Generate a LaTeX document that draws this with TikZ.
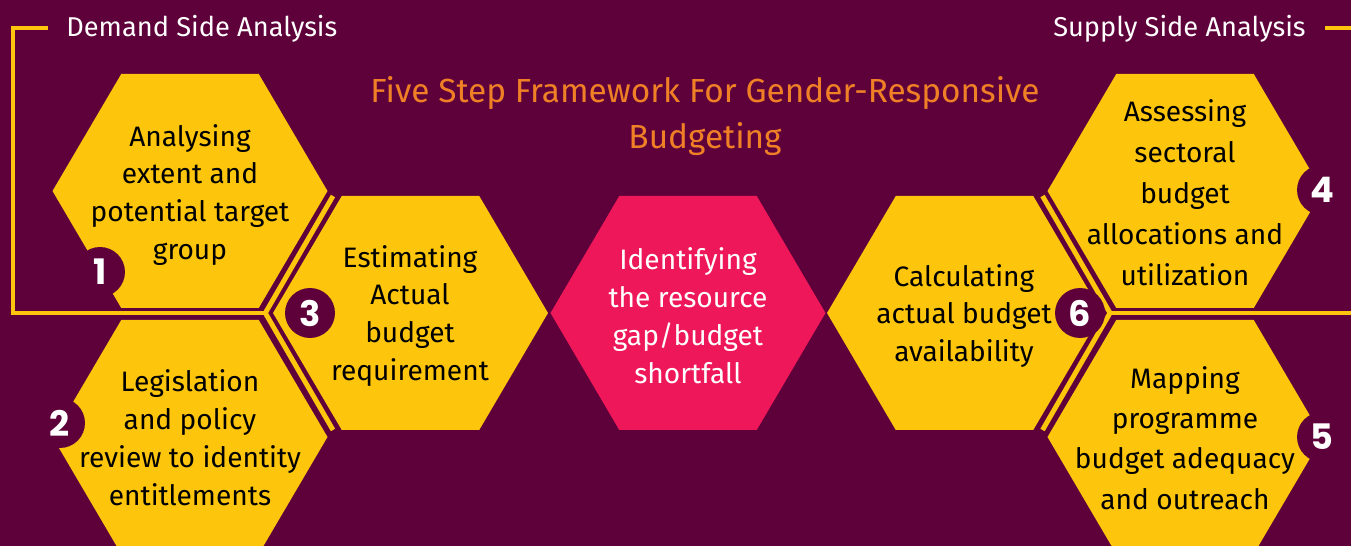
\documentclass[tikz,border=0pt]{standalone}
\usepackage{fontspec}
\setmainfont{Fira Sans}
\newfontfamily\numfont{Poppins}

\definecolor{bgmaroon}{HTML}{5E003A}
\definecolor{hexyellow}{HTML}{FDC60C}
\definecolor{hexpink}{HTML}{EE1759}
\definecolor{titleorange}{HTML}{F08026}

\tikzset{
  hextext/.style={align=center, text=black, font=\fontsize{16}{21.6}\selectfont},
  numcircle/.style={circle, fill=bgmaroon, minimum size=1cm, inner sep=0pt, text=white,
    font=\numfont\bfseries\fontsize{20}{20}\selectfont},
  sideline/.style={draw=hexyellow, line width=2.8pt},
  sidelabel/.style={text=white, inner sep=0pt, font=\fontsize{15.5}{18}\selectfont}
}

\begin{document}
\begin{tikzpicture}[x=0.02cm, y=-0.02cm]
  \clip (0,0) rectangle (1351,546);
  \fill[bgmaroon] (0,0) rectangle (1351,546);

  \foreach \cx/\cy/\col in {190/191/hexyellow, 190/437/hexyellow, 410.5/313/hexyellow,
      688/313/hexpink, 964.5/313/hexyellow, 1185/191/hexyellow, 1185/437/hexyellow} {
    \fill[\col] (\cx-137.5,\cy) -- ++(68.75,-117) -- ++(137.5,0) -- ++(68.75,117)
      -- ++(-68.75,117) -- ++(-137.5,0) -- cycle;
  }

  \draw[sideline] (48,28) -- (13,28) -- (13,313) -- (265,313);
  \draw[sideline, line join=miter] (333,196) -- (265.3,313) -- (333,430);
  \draw[sideline] (1325,28) -- (1351,28);
  \draw[sideline] (1351,313) -- (1110,313);
  \draw[sideline, line join=miter] (1042.5,196) -- (1110,313) -- (1042.5,430);

  \node[sidelabel, anchor=west] (demand) at (66,29) {Demand Side Analysis};
  \node[sidelabel, anchor=east] (supply) at (1306,29) {Supply Side Analysis};

  \node[align=center, text=titleorange, font=\fontsize{19}{26}\selectfont] (title) at (705,116)
    {Five Step Framework For Gender-Responsive\\Budgeting};

  \node[hextext] (analysing) at (190,195) {Analysing\\extent and\\potential target\\group};
  \node[hextext] (legislation) at (190,438) {Legislation\\and policy\\review to identity\\entitlements};
  \node[hextext] (estimating) at (410,316) {Estimating\\Actual\\budget\\requirement};
  \node[hextext, text=white] (gap) at (688,316) {Identifying\\the resource\\gap/budget\\shortfall};
  \node[hextext] (calculating) at (964,316) {Calculating\\actual budget\\availability};
  \node[hextext, font=\fontsize{16}{23.3}\selectfont] (assessing) at (1185,193)
    {Assessing\\sectoral\\budget\\allocations and\\utilization};
  \node[hextext, font=\fontsize{16}{23}\selectfont] (mapping) at (1185,438)
    {Mapping\\programme\\budget adequacy\\and outreach};

  \node[numcircle] (n1) at (100,272) {1};
  \node[numcircle] (n2) at (60,423) {2};
  \node[numcircle] (n3) at (310,313) {3};
  \node[numcircle] (n4) at (1322,190) {4};
  \node[numcircle] (n5) at (1322,437) {5};
  \node[numcircle] (n6) at (1080,313) {6};
\end{tikzpicture}
\end{document}
